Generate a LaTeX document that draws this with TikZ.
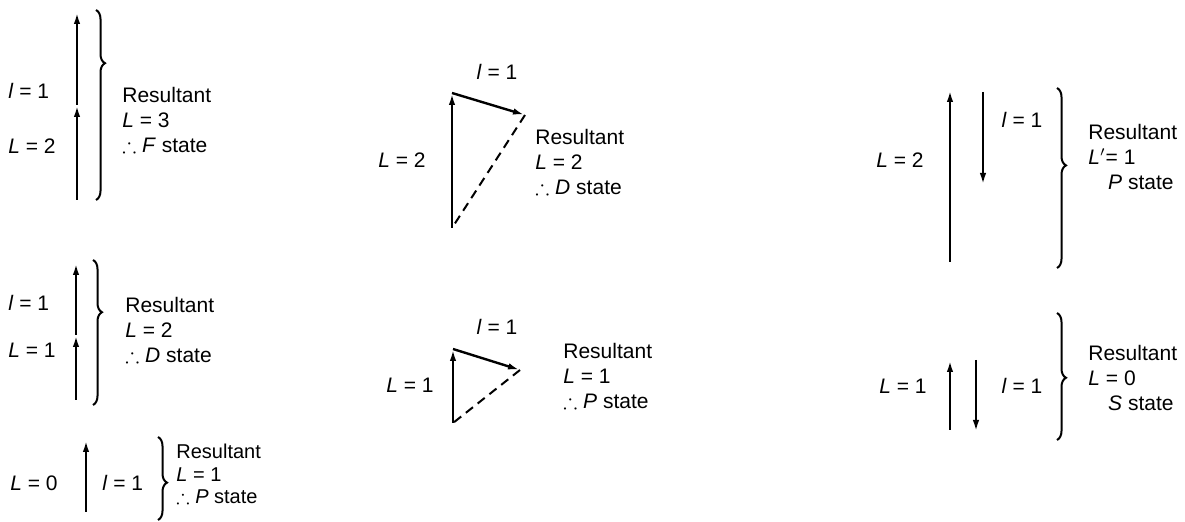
\documentclass[tikz,border=0pt]{standalone}
\usepackage{amsmath,amssymb}
\usepackage{fontspec}
\setmainfont{Liberation Sans}
\usepackage{tikz}
\usetikzlibrary{positioning,arrows.meta,decorations.pathreplacing}

\tikzset{
  vec/.style={line width=1.2pt, -{Latex[length=6pt,width=3.2pt]}},
  resline/.style={line width=1pt, dash pattern=on 4.5pt off 3pt},
  sbrace/.style={line width=1pt, decorate,
    decoration={brace, amplitude=4.5pt, aspect=#1}},
  lab/.style={inner sep=0pt, font=\fontsize{10.5}{12}\selectfont},
  restext/.style={inner sep=0pt, anchor=north west, align=left,
    font=\fontsize{10.5}{12.5}\selectfont}
}

\begin{document}
\begin{tikzpicture}[x=0.5pt, y=-0.5pt]
    \useasboundingbox (0,0) rectangle (1185,522);

    % F state: L = 2 plus l = 1 in line
    \coordinate (fa) at (77,200);
    \coordinate (fb) at (77,105);
    \coordinate (fc) at (77,12);
    \draw[vec] (fa) -- (fb);
    \draw[vec] (fb) -- (fc);
    \coordinate (ft) at (96,10);
    \coordinate (fu) at (96,200);
    \draw[sbrace=0.28] (ft) -- (fu);
    \node[lab, anchor=west] (fl) at (8,91) {\textit{l} = 1};
    \node[lab, anchor=west] (fL) at (8,146) {\textit{L} = 2};
    \node[restext] (fres) at (122,87) {Resultant\\ \textit{L} = 3\\ $\therefore$ \textit{F} state};

    % D state: L = 1 plus l = 1 in line
    \coordinate (da) at (76,400);
    \coordinate (db) at (76,335);
    \coordinate (dc) at (76,263);
    \draw[vec] (da) -- (db);
    \draw[vec] (db) -- (dc);
    \coordinate (dt) at (93,260);
    \coordinate (du) at (93,405);
    \draw[sbrace=0.36] (dt) -- (du);
    \node[lab, anchor=west] (dl) at (8,303) {\textit{l} = 1};
    \node[lab, anchor=west] (dL) at (8,350) {\textit{L} = 1};
    \node[restext] (dres) at (125,297) {Resultant\\ \textit{L} = 2\\ $\therefore$ \textit{D} state};

    % P state from L = 0
    \coordinate (pa) at (86,512);
    \coordinate (pb) at (86,440);
    \draw[vec] (pa) -- (pb);
    \coordinate (pt) at (158,437);
    \coordinate (pu) at (158,520);
    \draw[sbrace=0.55] (pt) -- (pu);
    \node[lab, anchor=west] (pL) at (10,483) {\textit{L} = 0};
    \node[lab, anchor=west] (pl) at (102,483) {\textit{l} = 1};
    \node[restext, font=\fontsize{10}{11.2}\selectfont] (pres) at (176,444) {Resultant\\ \textit{L} = 1\\ $\therefore$ \textit{P} state};

    % D state: l at an angle to L = 2
    \coordinate (ga) at (452,228);
    \coordinate (gb) at (452,93);
    \coordinate (gc) at (525,115);
    \draw[vec] (ga) -- (gb);
    \draw[vec] (gb) -- (gc);
    \draw[resline] (gc) -- (ga);
    \node[lab] (gl) at (497,72) {\textit{l} = 1};
    \node[lab] (gL) at (402,160) {\textit{L} = 2};
    \node[restext] (gres) at (535,129) {Resultant\\ \textit{L} = 2\\ $\therefore$ \textit{D} state};

    % P state: l at an angle to L = 1
    \coordinate (ha) at (453,423);
    \coordinate (hb) at (453,349);
    \coordinate (hc) at (520,370);
    \draw[vec] (ha) -- (hb);
    \draw[vec] (hb) -- (hc);
    \draw[resline] (hc) -- (ha);
    \node[lab] (hl) at (497,327) {\textit{l} = 1};
    \node[lab] (hL) at (410,385) {\textit{L} = 1};
    \node[restext] (hres) at (563,343) {Resultant\\ \textit{L} = 1\\ $\therefore$ \textit{P} state};

    % P state: l opposed to L = 2
    \coordinate (ka) at (950,262);
    \coordinate (kb) at (950,90);
    \coordinate (kc) at (983,92);
    \coordinate (kd) at (983,185);
    \draw[vec] (ka) -- (kb);
    \draw[vec] (kc) -- (kd);
    \coordinate (kt) at (1057,88);
    \coordinate (ku) at (1057,268);
    \draw[sbrace=0.43] (kt) -- (ku);
    \node[lab] (kL) at (900,160) {\textit{L} = 2};
    \node[lab] (kl) at (1022,120) {\textit{l} = 1};
    \node[restext] (kres) at (1088,124) {Resultant\\ \textit{L}$'$= 1\\ \phantom{$\therefore$} \textit{P} state};

    % S state: l opposed to L = 1
    \coordinate (sa) at (950,430);
    \coordinate (sb) at (950,360);
    \coordinate (sc) at (976,360);
    \coordinate (sd) at (976,432);
    \draw[vec] (sa) -- (sb);
    \draw[vec] (sc) -- (sd);
    \coordinate (st) at (1057,313);
    \coordinate (su) at (1057,440);
    \draw[sbrace=0.51] (st) -- (su);
    \node[lab] (sL) at (903,386) {\textit{L} = 1};
    \node[lab] (sl) at (1022,386) {\textit{l} = 1};
    \node[restext] (sres) at (1088,345) {Resultant\\ \textit{L} = 0\\ \phantom{$\therefore$} \textit{S} state};
  \end{tikzpicture}
\end{document}
